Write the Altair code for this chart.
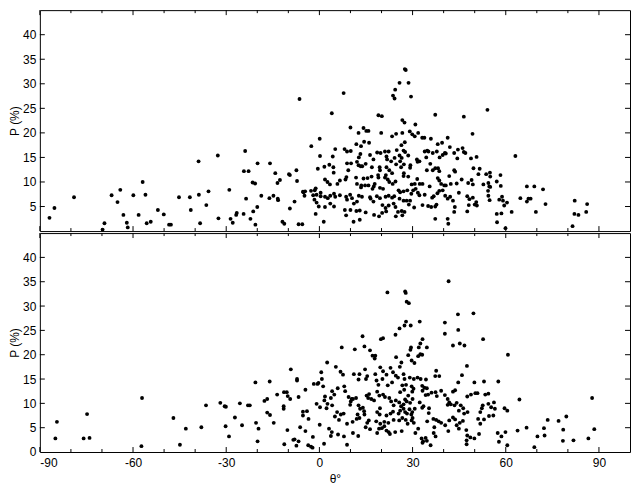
import altair as alt
import pandas as pd

# ---------------- data (theta in degrees, P in %) ----------------
top_points = [
    (-86.9, 2.7), (-85.3, 4.7), (-79.0, 6.9), (-69.8, 0.3), (-69.2, 1.6), (-66.9, 7.3), (-65.0, 5.9),
    (-64.1, 8.4), (-63.1, 3.3), (-62.0, 1.7), (-61.7, 0.75), (-59.9, 7.3), (-58.2, 3.3), (-56.9, 10.0),
    (-56.0, 7.4), (-55.6, 1.6), (-54.3, 1.9), (-52.0, 4.3), (-50.1, 3.4), (-48.4, 1.3), (-47.8, 1.3),
    (-45.2, 6.9),
    (-6.4, 26.9), (-32.7, 15.4), (-23.9, 16.3), (-38.9, 14.2), (-19.9, 13.8), (-15.9, 13.8), (-24.3, 12.2),
    (-22.8, 12.2), (-14.2, 11.8), (-9.8, 11.6), (-9.5, 11.4), (-7.4, 12.4), (-21.5, 9.9), (-20.7, 9.7),
    (-12.7, 10.4), (-13.5, 9.8), (-7.2, 10.2), (-41.7, 6.9), (-38.8, 7.4), (-35.7, 8.1), (-29.0, 8.4),
    (-41.4, 4.3), (-36.4, 5.3), (-23.6, 6.6), (-18.7, 7.2), (-16.1, 6.7), (-14.8, 7.2), (-13.4, 6.6),
    (-13.3, 6.3), (-5.3, 8.0), (-8.0, 6.0), (-9.5, 4.6), (-20.0, 4.9), (-21.3, 4.0), (-26.6, 3.7),
    (-26.8, 3.3), (-24.4, 3.5), (-32.5, 2.6), (-28.6, 2.5), (-27.9, 1.7), (-38.4, 1.6), (-22.2, 2.5),
    (-20.6, 1.3), (-11.9, 1.9), (-11.3, 1.5), (-6.7, 1.4), (-5.5, 1.4),
    (7.8, 28.1), (24.4, 28.8), (23.7, 27.6), (24.2, 27.0), (4.0, 24.0), (19.0, 23.6), (20.1, 23.4),
    (10.0, 21.1), (14.2, 21.0), (15.1, 20.4), (15.8, 20.4), (12.6, 20.0), (19.9, 20.0), (23.4, 19.3),
    (24.7, 19.8), (0.1, 18.8), (-2.6, 17.3), (11.9, 17.7), (13.4, 17.3), (14.4, 18.2), (16.0, 18.0),
    (8.1, 16.7), (8.9, 16.2), (10.1, 16.3), (5.1, 16.7), (4.3, 15.2), (0.2, 15.3), (13.2, 15.7),
    (12.7, 15.0), (16.3, 15.5), (18.6, 16.0), (19.7, 15.9), (21.1, 16.2), (22.3, 16.2), (17.4, 14.6),
    (21.6, 15.2), (21.8, 14.6), (23.1, 14.2), (24.2, 14.9), (24.7, 13.6), (10.2, 13.8), (8.9, 13.8),
    (12.1, 14.1), (12.6, 13.4), (13.3, 13.2), (13.8, 13.2), (14.9, 13.7), (16.9, 13.0), (19.4, 13.0),
    (19.5, 12.4), (-0.5, 12.7), (1.6, 13.1), (3.2, 13.5), (4.5, 13.0), (4.6, 11.9), (9.3, 12.4),
    (21.6, 13.0), (22.5, 12.4), (23.4, 11.8), (21.4, 11.4), (21.1, 10.9), (18.9, 11.4), (19.0, 10.9),
    (16.8, 11.1), (15.5, 10.8), (11.8, 10.9), (14.2, 10.7), (8.7, 11.0), (8.4, 10.5), (6.6, 10.3),
    (1.8, 10.5), (2.6, 10.0), (3.4, 9.5), (5.8, 9.6), (12.1, 9.6), (13.5, 9.3), (13.4, 8.9), (14.7, 9.3),
    (15.8, 9.3), (17.5, 9.1), (17.8, 9.6), (17.1, 8.6), (19.5, 8.8), (20.5, 8.6), (22.0, 10.5),
    (22.5, 10.0), (23.6, 9.6), (24.5, 10.1), (-4.6, 8.1), (-5.1, 7.9), (-4.8, 7.2), (-2.7, 8.2),
    (-1.5, 8.3), (-1.2, 8.7), (-2.0, 7.3), (-0.9, 7.4), (-1.6, 6.4), (-0.9, 5.8), (0.4, 7.8), (0.4, 7.1),
    (1.8, 7.0), (2.7, 6.7), (3.5, 7.2), (4.7, 7.6), (5.1, 7.0), (6.6, 7.3), (-0.2, 5.0), (1.8, 4.9),
    (3.5, 5.6), (4.7, 5.0), (8.6, 7.0), (8.9, 6.4), (9.9, 7.4), (10.5, 6.7), (11.1, 5.6), (12.1, 6.0),
    (12.7, 7.2), (13.7, 7.0), (8.2, 4.3), (10.0, 4.3), (11.9, 4.1), (13.0, 4.2), (14.9, 3.8), (16.3, 6.9),
    (16.5, 6.6), (17.4, 6.0), (18.5, 7.1), (19.5, 6.7), (21.3, 7.0), (22.3, 7.2), (23.4, 6.8), (24.1, 7.1),
    (20.3, 5.3), (21.3, 4.7), (22.3, 5.2), (21.5, 4.0), (20.2, 3.7), (17.6, 3.3), (19.2, 3.0), (8.6, 3.2),
    (11.0, 1.9), (13.0, 2.3), (1.4, 1.9), (-1.2, 3.5), (24.6, 3.0), (23.9, 5.6), (24.5, 4.9),
    (27.5, 33.0), (27.8, 32.8), (25.8, 30.2), (28.7, 30.2), (29.5, 27.4), (37.3, 23.7), (46.5, 23.3),
    (54.1, 24.7), (26.7, 22.6), (27.4, 22.1), (30.9, 21.7), (26.7, 20.0), (29.1, 20.3),
    (29.9, 19.7), (30.7, 19.3), (31.8, 20.0), (33.1, 19.0), (33.8, 19.0), (35.9, 18.8), (41.3, 19.0),
    (49.3, 19.8), (27.5, 18.1), (26.4, 17.5), (38.1, 17.7), (39.5, 18.0), (42.0, 17.1), (24.9, 16.5),
    (27.1, 16.4), (27.6, 16.1), (33.9, 16.2), (34.7, 16.4), (35.1, 16.2), (36.5, 15.9), (37.8, 16.2),
    (40.4, 15.9), (40.7, 15.8), (43.4, 15.9), (44.6, 16.6), (46.1, 16.9), (46.5, 16.1), (47.0, 15.9),
    (25.8, 15.4), (26.5, 14.9), (26.0, 14.2), (28.6, 15.4), (31.4, 14.6), (32.2, 14.2),
    (31.6, 14.1), (34.4, 15.0), (38.7, 15.0), (39.7, 15.5), (44.4, 14.8), (48.8, 14.8), (50.6, 15.1),
    (26.3, 13.0), (27.2, 13.6), (29.3, 13.4), (29.2, 12.9), (35.7, 13.7), (36.5, 12.4),
    (37.3, 12.8), (38.2, 12.8), (38.6, 12.2), (34.6, 12.4), (43.4, 12.4), (43.7, 12.1), (49.6, 12.8),
    (51.2, 11.6), (51.6, 12.7), (53.7, 11.6), (54.9, 11.9), (55.0, 11.1), (27.2, 11.8), (27.1, 11.2),
    (28.6, 11.1), (29.7, 9.5), (30.7, 9.6), (31.5, 10.6), (32.3, 9.6), (33.2, 9.6),
    (35.5, 9.1), (38.1, 10.8), (38.6, 10.3), (39.2, 9.6), (40.2, 9.3), (40.7, 9.3), (41.8, 11.2),
    (42.3, 9.6), (44.2, 9.7), (45.8, 10.5), (47.9, 9.8), (49.0, 10.4), (49.4, 9.5), (52.8, 9.5),
    (54.4, 9.8), (55.0, 9.0), (25.5, 8.3), (26.0, 7.9), (27.1, 8.1), (28.3, 8.3), (29.6, 7.6), (30.2, 8.3),
    (31.0, 8.6), (31.7, 7.8), (32.2, 7.3), (25.8, 6.6), (27.1, 6.2), (28.1, 6.2), (29.2, 6.2), (28.8, 5.4),
    (33.9, 7.4), (36.3, 6.8), (36.8, 7.1), (38.0, 7.7), (38.6, 8.2), (39.7, 8.3), (40.5, 7.2), (41.3, 6.6),
    (42.1, 7.0), (43.0, 6.2), (44.9, 7.8), (47.6, 7.1), (48.3, 6.5), (49.4, 6.8), (50.0, 5.4), (50.5, 5.9),
    (54.4, 7.2), (54.8, 6.3), (30.5, 4.8), (33.2, 5.3), (35.0, 5.1), (36.0, 4.9), (37.3, 5.0), (37.7, 5.4),
    (25.3, 3.9), (26.5, 4.1), (27.4, 3.9), (26.7, 3.2), (37.3, 2.5), (41.3, 2.5), (41.5, 1.5), (43.4, 3.9),
    (43.6, 4.9), (47.6, 4.0), (48.1, 5.3), (50.7, 5.2), (54.7, 9.1), (54.3, 8.2),
    (63.1, 15.3), (58.3, 11.4), (57.1, 10.1), (58.4, 9.2), (66.8, 9.1), (69.2, 9.1), (72.0, 8.5),
    (58.8, 7.0), (57.9, 6.4), (59.1, 6.2), (60.4, 5.8), (64.7, 6.7), (67.3, 6.6), (68.0, 6.6), (66.8, 6.0),
    (72.8, 5.5), (59.5, 5.2), (57.1, 3.5), (58.6, 3.6), (61.9, 3.9), (69.7, 3.9), (57.2, 1.8), (59.9, 0.6),
    (82.2, 6.2), (86.2, 5.5), (85.9, 3.9), (82.1, 3.5), (83.4, 3.3), (81.5, 1.0),
]

bottom_points = [
    (-85.0, 2.8), (-84.5, 6.2), (-75.9, 2.8), (-74.0, 2.9), (-74.8, 7.8), (-57.1, 11.1), (-57.3, 1.2),
    (-47.0, 7.0), (-44.9, 1.5), (-43.0, 4.8),
    (-9.2, 17.0), (-20.6, 14.3), (-16.0, 14.5), (-7.2, 15.0), (-7.2, 14.7), (-38.0, 5.1), (-36.5, 9.6),
    (-31.9, 10.1), (-30.5, 9.4), (-30.1, 9.3), (-25.6, 10.0), (-23.0, 9.6), (-22.4, 9.6), (-27.2, 7.1),
    (-30.2, 5.3), (-29.1, 3.2), (-24.9, 5.5), (-20.4, 6.0), (-19.6, 4.8), (-19.9, 2.2), (-17.7, 10.5),
    (-16.8, 10.9), (-16.8, 8.1), (-15.9, 7.6), (-14.7, 6.0), (-13.6, 11.8), (-11.4, 12.3), (-10.5, 12.3),
    (-10.2, 11.5), (-9.4, 10.9), (-11.5, 9.4), (-11.5, 8.9), (-6.7, 11.3), (-5.3, 8.3), (-5.3, 7.5),
    (-6.2, 5.1), (-10.3, 4.5), (-11.3, 1.6), (-8.4, 2.5), (-8.0, 2.6), (-6.7, 2.2), (-7.4, 1.3),
    (21.9, 32.8), (13.9, 23.8), (19.8, 23.2), (20.5, 23.4), (24.5, 24.1), (7.2, 21.5), (11.4, 21.1),
    (14.5, 21.7), (16.3, 20.9), (17.1, 19.8), (17.8, 19.2), (18.0, 19.8), (24.7, 19.5), (2.5, 18.4),
    (5.3, 17.5), (6.8, 16.5), (7.6, 15.9), (0.6, 16.4), (0.8, 15.0), (-0.3, 14.2), (11.1, 16.0),
    (12.9, 16.0), (12.6, 14.9), (14.7, 17.0), (15.4, 15.6), (15.0, 15.0), (18.0, 16.0), (19.6, 17.4),
    (20.5, 16.6), (21.6, 15.9), (22.9, 17.3), (23.7, 16.4), (24.6, 15.7), (18.4, 14.7), (19.0, 13.8),
    (20.3, 15.0), (22.0, 13.7), (23.4, 14.3), (-1.8, 14.0), (-0.6, 14.0), (1.2, 13.5), (-4.5, 12.8),
    (4.1, 12.5), (5.9, 13.1), (8.0, 13.5), (8.3, 12.5), (4.8, 11.8), (3.7, 11.1), (1.8, 11.4), (1.6, 10.6),
    (2.6, 9.9), (4.1, 9.6), (2.3, 9.0), (0.2, 9.2), (-0.9, 9.9), (-4.0, 8.4), (-3.5, 6.8),
    (5.7, 8.2), (6.9, 7.7), (5.0, 7.3), (6.3, 6.6), (7.8, 7.9), (9.4, 11.3), (10.4, 10.9), (10.1, 10.4),
    (9.9, 9.7), (10.8, 10.9), (11.8, 11.1), (12.6, 9.6), (13.1, 8.9), (14.0, 9.1), (14.4, 8.4),
    (15.2, 11.6), (16.0, 11.9), (15.7, 11.1), (16.7, 10.9), (17.6, 10.6), (18.6, 12.4), (19.3, 11.6),
    (20.5, 11.8), (21.1, 11.3), (22.5, 11.1), (23.1, 10.4), (23.9, 9.6), (24.6, 10.6), (19.5, 9.0),
    (18.6, 8.2), (19.4, 7.7), (12.3, 7.7), (12.9, 7.0), (12.0, 6.8), (10.7, 6.2), (8.9, 5.8),
    (14.5, 7.7), (15.9, 6.5), (15.4, 6.0), (18.3, 6.3), (19.6, 5.8), (20.9, 6.2), (22.2, 6.0),
    (20.9, 5.3), (20.1, 4.9), (19.2, 4.8), (18.6, 3.9), (21.6, 7.5), (22.9, 7.9), (23.7, 8.3), (23.9, 6.6),
    (0.1, 5.6), (-4.5, 4.3), (3.1, 4.8), (4.0, 4.1), (3.7, 3.3), (6.0, 3.6), (7.9, 3.2), (10.8, 3.9),
    (12.5, 3.3), (14.9, 5.1), (16.3, 4.7), (21.6, 4.4), (22.3, 4.1), (22.7, 3.7), (24.4, 4.1), (-2.1, 3.1),
    (-3.6, 1.4), (-2.7, 1.1), (-2.2, 0.9), (1.5, 1.7), (8.9, 1.5),
    (41.6, 35.1), (27.6, 33.0), (27.8, 32.7), (28.1, 30.9), (28.8, 30.6), (44.6, 28.3), (49.6, 28.5),
    (40.4, 26.6), (40.4, 24.3), (44.7, 25.1), (32.3, 26.8), (29.4, 26.0), (27.9, 26.8), (27.4, 26.0),
    (25.8, 25.4), (52.7, 23.2), (43.0, 21.9), (45.2, 22.3), (46.7, 21.9), (33.2, 23.2), (32.5, 22.3),
    (32.0, 21.5), (34.6, 21.5), (29.5, 21.5), (29.3, 21.0), (28.6, 19.9), (29.7, 18.8), (30.6, 18.3),
    (31.8, 19.7), (32.5, 20.1), (33.1, 20.0), (26.4, 18.4), (25.9, 17.5), (47.5, 17.7),
    (25.3, 15.3), (27.1, 16.0), (27.4, 15.0), (29.1, 15.3), (30.4, 15.0), (31.6, 15.3),
    (32.6, 15.0), (34.3, 14.9), (37.6, 16.7), (37.3, 15.6), (38.6, 15.6), (45.9, 15.8), (44.7, 14.3),
    (49.9, 14.3), (53.0, 14.5), (26.7, 13.7), (27.9, 13.8), (27.3, 12.8), (26.0, 12.3), (29.7, 13.5),
    (30.3, 13.0), (29.9, 12.4), (28.6, 11.6), (33.1, 13.6), (33.8, 13.2), (34.6, 13.1), (33.2, 12.6),
    (34.2, 11.7), (35.0, 11.8), (36.1, 12.2), (37.4, 12.3), (37.8, 11.5), (39.2, 12.6), (40.4, 11.7),
    (43.0, 12.4), (43.7, 12.7), (47.6, 11.4), (48.8, 11.8), (50.2, 12.1), (50.9, 12.1), (53.4, 11.8),
    (54.4, 12.0), (25.7, 10.2), (27.6, 10.8), (27.1, 9.8), (26.3, 9.4), (28.1, 10.4),
    (29.2, 10.1), (30.0, 10.9), (26.0, 8.5), (27.1, 8.9), (27.6, 8.2), (29.0, 8.8), (29.9, 8.2),
    (30.7, 8.9), (29.6, 7.7), (28.2, 7.9), (25.5, 7.9), (32.3, 10.2), (33.1, 9.1), (33.5, 9.4),
    (35.3, 9.0), (35.2, 8.0), (41.3, 10.9), (41.8, 10.2), (42.3, 9.8), (41.3, 9.7), (44.2, 10.1),
    (43.5, 9.6), (44.9, 8.5), (45.5, 9.6), (46.3, 9.0), (46.6, 7.9), (47.7, 8.2), (51.8, 8.2), (52.3, 9.0),
    (52.6, 9.6), (54.4, 9.9), (55.3, 9.2), (56.2, 10.2), (56.0, 7.5), (54.6, 7.4), (53.0, 6.7),
    (51.8, 5.8), (51.1, 6.8), (25.7, 6.5), (26.7, 7.0), (27.8, 6.6), (28.4, 5.8), (29.7, 6.5), (30.0, 7.0),
    (30.4, 6.0), (31.8, 4.8), (30.9, 3.9), (32.9, 2.8), (34.2, 2.9), (33.2, 1.9), (34.7, 6.3), (36.7, 6.8),
    (37.6, 6.6), (38.4, 6.3), (37.0, 5.1), (36.8, 3.9), (37.4, 3.2), (39.2, 6.0), (40.5, 5.5), (41.5, 4.3),
    (41.8, 6.5), (43.0, 7.1), (43.7, 6.7), (44.2, 5.5), (45.2, 6.0), (44.9, 4.8), (46.2, 6.4), (47.3, 4.5),
    (47.6, 3.4), (47.4, 2.4), (47.4, 1.6), (48.6, 3.0), (49.9, 2.8), (51.4, 3.7), (26.5, 4.3),
    (33.4, 2.2), (34.6, 2.3), (35.8, 1.4),
    (60.7, 20.0), (57.6, 14.5), (64.4, 10.8), (87.8, 11.1), (56.5, 8.9), (59.6, 9.0), (60.5, 8.5),
    (57.4, 3.9), (58.6, 3.2), (59.9, 4.1), (57.8, 2.1), (60.5, 1.4), (63.8, 4.4), (66.7, 5.0), (69.2, 1.0),
    (70.2, 3.2), (72.3, 4.9), (72.5, 3.4), (73.5, 6.6), (77.0, 6.4), (79.5, 7.3), (78.5, 4.6), (78.4, 2.3),
    (81.8, 2.4), (86.6, 2.8), (88.5, 4.7),
]

x_major = [-90, -60, -30, 0, 30, 60, 90]
x_minor = [-80, -70, -50, -40, -20, -10, 10, 20, 40, 50, 70, 80]
y_tick_values = [5, 10, 15, 20, 25, 30, 35, 40]
top_y_labels = [5, 10, 15, 20, 25, 30, 35, 40]
bottom_y_labels = [0, 5, 10, 15, 20, 25, 30, 35, 40]

# ---------------- layout ----------------
W = 593
H_TOP = 222
H_BOT = 220
MAJ = 5
MIN = 3
YT = 5

x_scale = alt.Scale(domain=[-90, 100], nice=False, zero=False)
y_scale = alt.Scale(domain=[0, 45], nice=False, zero=False)

maj_df = pd.DataFrame({"theta": x_major})
min_df = pd.DataFrame({"theta": x_minor})
yt_df = pd.DataFrame({"P": y_tick_values})


def make_axes(y_labels, show_x):
    if show_x:
        xaxis = alt.Axis(values=x_major, ticks=False, domain=False, grid=False,
                         labelPadding=6, labelExpr="'' + datum.value",
                         title="θ°", titlePadding=5)
    else:
        xaxis = None
    yaxis = alt.Axis(values=y_labels, ticks=False, domain=False, grid=False,
                     labelPadding=4, title="P (%)", titlePadding=1)
    return xaxis, yaxis


def panel(points, h, y_labels, show_x):
    xaxis, yaxis = make_axes(y_labels, show_x)
    xenc = alt.X("theta:Q", scale=x_scale, axis=xaxis, title="θ°")
    yenc = alt.Y("P:Q", scale=y_scale, axis=yaxis, title="P (%)")
    df = pd.DataFrame(points, columns=["theta", "P"])
    pts = alt.Chart(df).mark_circle(size=15, color="black", opacity=1).encode(x=xenc, y=yenc)

    layers = [pts]
    for tdf, length in ((maj_df, MAJ), (min_df, MIN)):
        layers.append(alt.Chart(tdf).mark_rule(color="black", strokeWidth=1).encode(
            x=xenc, y=alt.value(h), y2=alt.value(h - length)))
        layers.append(alt.Chart(tdf).mark_rule(color="black", strokeWidth=1).encode(
            x=xenc, y=alt.value(0), y2=alt.value(length)))
    layers.append(alt.Chart(yt_df).mark_rule(color="black", strokeWidth=1).encode(
        y=yenc, x=alt.value(0), x2=alt.value(YT)))
    layers.append(alt.Chart(yt_df).mark_rule(color="black", strokeWidth=1).encode(
        y=yenc, x=alt.value(W), x2=alt.value(W - YT)))
    return alt.layer(*layers).properties(width=W, height=h)


top = panel(top_points, H_TOP, top_y_labels, False)
bottom = panel(bottom_points, H_BOT, bottom_y_labels, True)

chart = alt.vconcat(top, bottom, spacing=0).properties(
    padding=0, background="white"
).configure_view(
    stroke="black", strokeWidth=1
).configure_axis(
    labelFont="Liberation Sans", titleFont="Liberation Sans",
    labelFontSize=12, titleFontSize=12, labelColor="black", titleColor="black",
    titleFontWeight="normal"
)

chart.save("out.html", embed_options={"renderer": "svg", "actions": False})
